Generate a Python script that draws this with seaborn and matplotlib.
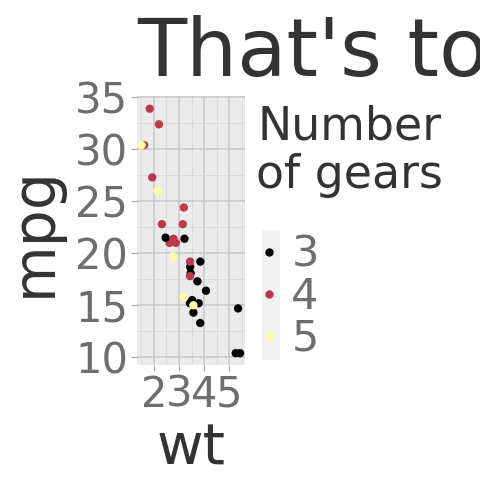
import pandas as pd
import numpy as np
import seaborn as sns
import matplotlib.pyplot as plt
from matplotlib.patches import Rectangle

# mtcars: weight, mpg, number of gears
wt = [2.620, 2.875, 2.320, 3.215, 3.440, 3.460, 3.570, 3.190, 3.150, 3.440, 3.440,
      4.070, 3.730, 3.780, 5.250, 5.424, 5.345, 2.200, 1.615, 1.835, 2.465, 3.520,
      3.435, 3.840, 3.845, 1.935, 2.140, 1.513, 3.170, 2.770, 3.570, 2.780]
mpg = [21.0, 21.0, 22.8, 21.4, 18.7, 18.1, 14.3, 24.4, 22.8, 19.2, 17.8,
       16.4, 17.3, 15.2, 10.4, 10.4, 14.7, 32.4, 30.4, 33.9, 21.5, 15.5,
       15.2, 13.3, 19.2, 27.3, 26.0, 30.4, 15.8, 19.7, 15.0, 21.4]
gear = [4, 4, 4, 3, 3, 3, 3, 4, 4, 4, 4, 3, 3, 3, 3, 3, 3, 4, 4, 4, 3, 3,
        3, 3, 3, 4, 5, 5, 5, 5, 5, 4]
gear_levels = ['3', '4', '5']
gear_colors = ['#000004', '#BB3754', '#FCFFA4']

x_ticks = [2, 3, 4, 5]
y_ticks = [10, 15, 20, 25, 30, 35]

data = pd.DataFrame({'wt': wt, 'mpg': mpg, 'gear': [str(g) for g in gear]})

fig = plt.figure(figsize=(4.8, 4.8), dpi=100)
ax = fig.add_axes([0.2848, 0.2388, 0.2256, 0.5602])

sns.scatterplot(data=data, x='wt', y='mpg', hue='gear', hue_order=gear_levels,
                palette=gear_colors, s=36, linewidth=0, ax=ax, zorder=3)

ax.set_facecolor('#EBEBEB')
for sp in ax.spines.values():
    sp.set_visible(False)

# ggplot-style expansion of 5%
xr = max(wt) - min(wt)
yr = max(mpg) - min(mpg)
ax.set_xlim(min(wt) - 0.05 * xr, max(wt) + 0.05 * xr)
ax.set_ylim(min(mpg) - 0.05 * yr, max(mpg) + 0.05 * yr)

ax.set_xticks(x_ticks)
ax.set_yticks(y_ticks)
ax.set_xticks([1.5, 2.5, 3.5, 4.5, 5.5], minor=True)
ax.set_yticks([12.5, 17.5, 22.5, 27.5, 32.5], minor=True)
ax.grid(which='major', color='#C8C8C8', lw=1.1)
ax.grid(which='minor', color='#D8D8D8', lw=0.6)
ax.set_axisbelow(True)

ax.tick_params(which='major', length=4, width=0.9, color='#AAAAAA',
               labelsize=30, labelcolor='#6E6E6E', pad=2)
ax.tick_params(which='minor', length=0)
ax.set_xlabel('')
ax.set_ylabel('')

fig.text(137 / 480, 1 - 76 / 480, "That's too", fontsize=58, color='#333333',
         ha='left', va='baseline')
fig.text(191 / 480, 1 - 465 / 480, 'wt', fontsize=41, color='#333333',
         ha='center', va='baseline')
fig.text(34 / 480, 1 - 231.5 / 480, 'mpg', fontsize=42, color='#333333',
         rotation=90, ha='center', va='center')

# legend
handles, labels = ax.get_legend_handles_labels()
leg = ax.legend(handles, labels, title='Number\nof gears', loc='upper left',
                bbox_to_anchor=(256 / 480, 1 - 105 / 480),
                bbox_transform=fig.transFigure, frameon=False,
                fontsize=31, title_fontsize=33, borderpad=0, borderaxespad=0,
                labelspacing=0.0, handlelength=0.6, handletextpad=0.22,
                alignment='left', markerscale=1.0)
title = leg.get_title()
title.set_multialignment('center')
title.set_linespacing(1.08)
title.set_color('#333333')
leg._legend_box.sep = 26
for t in leg.get_texts():
    t.set_color('#6E6E6E')

fig.patches.append(Rectangle((262 / 480, 1 - 359 / 480), 17 / 480, 129 / 480,
                             transform=fig.transFigure, color='#F2F2F2', zorder=-1))

fig.savefig('out.png', dpi=100)
